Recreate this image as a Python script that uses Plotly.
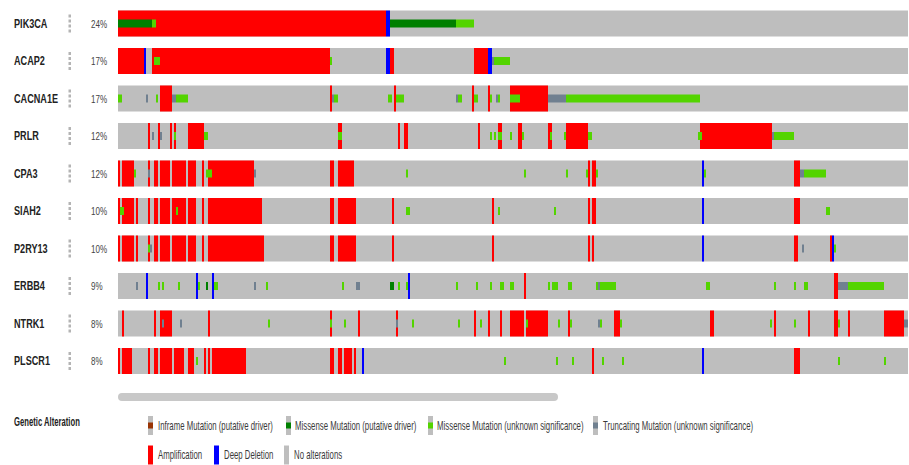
import json
import plotly.graph_objects as go

W, H = 909, 465

GENES = ["PIK3CA", "ACAP2", "CACNA1E", "PRLR", "CPA3", "SIAH2", "P2RY13", "ERBB4", "NTRK1", "PLSCR1"]
ALTERED_PCT = ["24%", "17%", "17%", "12%", "12%", "10%", "10%", "9%", "8%", "8%"]
N_SAMPLES = 395

# sample ranges (start, stop) per gene, in sample order of the oncoprint
AMPLIFICATION = [
    [(0, 134)],
    [(0, 13), (17, 106), (136, 138), (178, 185)],
    [(21, 27), (106, 107), (138, 139), (177, 178), (185, 186), (196, 215)],
    [(15, 16), (20, 21), (26, 27), (28, 29), (35, 43), (110, 112), (140, 141), (143, 145), (180, 181),
     (190, 191), (191, 192), (200, 202), (215, 217), (224, 235), (291, 327)],
    [(0, 1), (2, 8), (15, 16), (18, 20), (21, 26), (27, 34), (35, 39), (42, 43), (45, 68), (106, 108),
     (110, 112), (112, 118), (235, 236), (237, 239), (338, 341)],
    [(0, 1), (2, 8), (9, 10), (15, 16), (18, 20), (21, 26), (27, 34), (35, 39), (42, 43), (45, 72),
     (106, 108), (110, 112), (112, 119), (137, 138), (187, 188), (235, 236), (237, 239), (338, 341)],
    [(0, 1), (2, 8), (9, 10), (15, 16), (18, 20), (21, 26), (27, 34), (35, 39), (42, 43), (45, 73),
     (106, 108), (110, 112), (112, 119), (137, 138), (187, 188), (235, 236), (237, 238), (338, 340), (356, 357)],
    [(203, 204), (358, 360)],
    [(2, 3), (18, 19), (21, 27), (45, 46), (106, 107), (120, 121), (139, 140), (178, 179), (185, 186),
     (191, 192), (196, 203), (204, 215), (225, 226), (248, 251), (296, 298), (328, 329), (345, 346),
     (358, 360), (365, 366), (383, 393)],
    [(0, 1), (2, 7), (15, 16), (18, 20), (21, 27), (28, 30), (30, 33), (35, 38), (43, 44), (45, 46),
     (47, 64), (106, 108), (110, 112), (113, 117), (118, 119), (237, 238), (338, 341)],
]

DEEP_DELETION = [
    [(134, 136)],
    [(13, 14), (134, 136), (185, 187)],
    [],
    [],
    [(292, 293)],
    [(292, 293)],
    [(292, 293), (357, 358)],
    [(14, 15), (39, 40), (47, 48), (145, 146)],
    [],
    [(122, 123), (292, 293)],
]

MISSENSE_DRIVER = [
    [(0, 17), (136, 169)],
    [], [], [], [], [], [],
    [(44, 45), (136, 138)],
    [], [],
]

MISSENSE_VUS = [
    [(17, 19), (169, 178)],
    [(18, 21), (106, 107), (188, 196)],
    [(0, 2), (19, 20), (29, 35), (108, 110), (135, 137), (139, 143), (170, 172), (178, 180), (186, 187),
     (190, 191), (196, 201), (224, 291)],
    [(28, 29), (43, 45), (110, 112), (186, 187), (188, 189), (190, 192), (196, 197), (202, 203), (216, 217),
     (223, 224), (235, 237), (290, 292), (328, 338)],
    [(8, 9), (44, 47), (144, 145), (203, 204), (224, 225), (234, 235), (239, 240), (293, 294), (343, 354)],
    [(1, 3), (29, 30), (144, 146), (190, 191), (218, 219), (354, 356)],
    [(15, 16), (358, 359)],
    [(20, 21), (22, 23), (30, 31), (40, 41), (48, 50), (74, 75), (112, 113), (140, 141), (144, 145),
     (169, 170), (179, 180), (186, 187), (191, 193), (196, 198), (215, 216), (217, 220), (225, 227),
     (239, 240), (241, 249), (294, 296), (328, 329), (338, 339), (343, 345), (365, 383)],
    [(75, 76), (106, 107), (113, 114), (147, 148), (170, 171), (181, 182), (204, 205), (220, 221),
     (226, 227), (241, 242), (251, 252), (326, 327), (338, 339), (360, 361)],
    [(39, 40), (193, 194), (219, 220), (227, 228), (242, 243), (252, 253), (360, 361), (383, 384)],
]

TRUNCATING_VUS = [
    [],
    [(187, 188)],
    [(14, 15), (27, 29), (107, 108), (169, 170), (189, 190), (215, 224)],
    [(17, 18), (21, 22), (327, 328)],
    [(15, 16), (68, 69), (341, 343)],
    [],
    [(16, 17), (342, 343)],
    [(9, 10), (68, 69), (119, 121), (240, 241), (360, 365)],
    [(22, 23), (31, 32), (139, 140), (240, 241), (393, 395)],
    [],
]

LEGEND_ROW1 = ["Inframe Mutation (putative driver)", "Missense Mutation (putative driver)",
               "Missense Mutation (unknown significance)", "Truncating Mutation (unknown significance)"]
LEGEND_ROW2 = ["Amplification", "Deep Deletion", "No alterations"]

GRAY = "#bebebe"
RED = "#ff0000"
BLUE = "#0000ff"
DKGREEN = "#008000"
LTGREEN = "#53d400"
SLATE = "#708090"
BROWN = "#993404"

FONT = "Liberation Sans, Arial, sans-serif"

ROW_H = 0.693   # full cell height (row units)
MUT_H = 0.21    # inner mutation glyph height


def px_x(p):
    return p / W


def px_y(p):
    return 1 - p / H


def bar_trace(ranges_by_gene, color, height):
    ys, bases, lens = [], [], []
    for gi, ranges in enumerate(ranges_by_gene):
        for a, b in ranges:
            ys.append(gi)
            bases.append(a)
            lens.append(b - a)
    return go.Bar(orientation="h", y=ys, x=lens, base=bases, width=height,
                  marker=dict(color=color, line=dict(width=0)),
                  hoverinfo="skip", showlegend=False)


fig = go.Figure()
fig.add_trace(bar_trace([[(0, N_SAMPLES)] for _ in GENES], GRAY, ROW_H))
fig.add_trace(bar_trace(AMPLIFICATION, RED, ROW_H))
fig.add_trace(bar_trace(DEEP_DELETION, BLUE, ROW_H))
fig.add_trace(bar_trace(MISSENSE_DRIVER, DKGREEN, MUT_H))
fig.add_trace(bar_trace(MISSENSE_VUS, LTGREEN, MUT_H))
fig.add_trace(bar_trace(TRUNCATING_VUS, SLATE, MUT_H))

annotations = []
squeeze = []   # horizontal glyph compression for each annotation (narrow face)
shapes = []


def add_text(x, y, text, size, color, weight="normal", yref="paper", sx=0.7):
    annotations.append(dict(x=x, y=y, xref="paper", yref=yref, text=text, showarrow=False,
                            xanchor="left", yanchor="middle",
                            font=dict(family=FONT, size=size, color=color, weight=weight)))
    squeeze.append(sx)


for i, (g, pct) in enumerate(zip(GENES, ALTERED_PCT)):
    add_text(px_x(12), i, g, 12, "#222", weight="bold", yref="y", sx=0.76)
    add_text(px_x(89), i, pct, 11, "#444", yref="y", sx=0.73)
    # vertical dotted drag handle
    for off in (-7.5, -2.5, 2.5, 7.5):
        yc = i + off / 37.5
        shapes.append(dict(type="rect", xref="paper", yref="y",
                           x0=px_x(68.5), x1=px_x(71), y0=yc - 1.6 / 37.5, y1=yc + 1.6 / 37.5,
                           fillcolor="#b4b4b4", line=dict(width=0)))

# horizontal scrollbar
x0, x1, y0, y1, r = 118, 558, 393, 401, 4
path = (f"M {px_x(x0 + r)} {px_y(y0)} L {px_x(x1 - r)} {px_y(y0)} "
        f"Q {px_x(x1)} {px_y(y0)} {px_x(x1)} {px_y((y0 + y1) / 2)} "
        f"Q {px_x(x1)} {px_y(y1)} {px_x(x1 - r)} {px_y(y1)} "
        f"L {px_x(x0 + r)} {px_y(y1)} "
        f"Q {px_x(x0)} {px_y(y1)} {px_x(x0)} {px_y((y0 + y1) / 2)} "
        f"Q {px_x(x0)} {px_y(y0)} {px_x(x0 + r)} {px_y(y0)} Z")
shapes.append(dict(type="path", xref="paper", yref="paper", path=path,
                   fillcolor="#c8c8c8", line=dict(width=0)))

# legend
add_text(px_x(12), px_y(422), "Genetic Alteration", 12, "#222", weight="bold", sx=0.64)


def legend_item(x_rect, x_text, yc, label, inner=None, full=None):
    shapes.append(dict(type="rect", xref="paper", yref="paper",
                       x0=px_x(x_rect), x1=px_x(x_rect + 5), y0=px_y(yc + 9.5), y1=px_y(yc - 9.5),
                       fillcolor=full or GRAY, line=dict(width=0)))
    if inner:
        shapes.append(dict(type="rect", xref="paper", yref="paper",
                           x0=px_x(x_rect), x1=px_x(x_rect + 5), y0=px_y(yc + 3), y1=px_y(yc - 3),
                           fillcolor=inner, line=dict(width=0)))
    add_text(px_x(x_text), px_y(yc), label, 12, "#3a3a3a", sx=0.65)


legend_item(148, 156, 425.5, LEGEND_ROW1[0], inner=BROWN)
legend_item(286, 293, 425.5, LEGEND_ROW1[1], inner=DKGREEN)
legend_item(428, 435, 425.5, LEGEND_ROW1[2], inner=LTGREEN)
legend_item(593, 601, 425.5, LEGEND_ROW1[3], inner=SLATE)
legend_item(148, 156, 455, LEGEND_ROW2[0], full=RED)
legend_item(214, 222, 455, LEGEND_ROW2[1], full=BLUE)
legend_item(284, 292, 455, LEGEND_ROW2[2])

fig.update_layout(
    width=W, height=H, margin=dict(l=0, r=0, t=0, b=0),
    paper_bgcolor="white", plot_bgcolor="white",
    barmode="overlay", showlegend=False,
    xaxis=dict(domain=[px_x(118), px_x(908)], range=[0, N_SAMPLES], visible=False, fixedrange=True),
    yaxis=dict(domain=[px_y(379.75), px_y(4.75)], range=[9.5, -0.5], visible=False, fixedrange=True),
    annotations=annotations, shapes=shapes,
)

# narrow the label glyphs, keeping each label's left edge in place
squeeze_js = """
var sx = %SX%;
document.querySelectorAll('g.annotation').forEach(function (g) {
    var k = parseInt(g.getAttribute('data-index'), 10);
    var t = g.querySelector('.annotation-text');
    if (!t || isNaN(k)) return;
    t.style.transformBox = 'fill-box';
    t.style.transformOrigin = '0% 50%';
    t.style.transform = 'scaleX(' + sx[k] + ')';
});
""".replace("%SX%", json.dumps(squeeze))

fig.write_html("out.html", post_script=squeeze_js)
